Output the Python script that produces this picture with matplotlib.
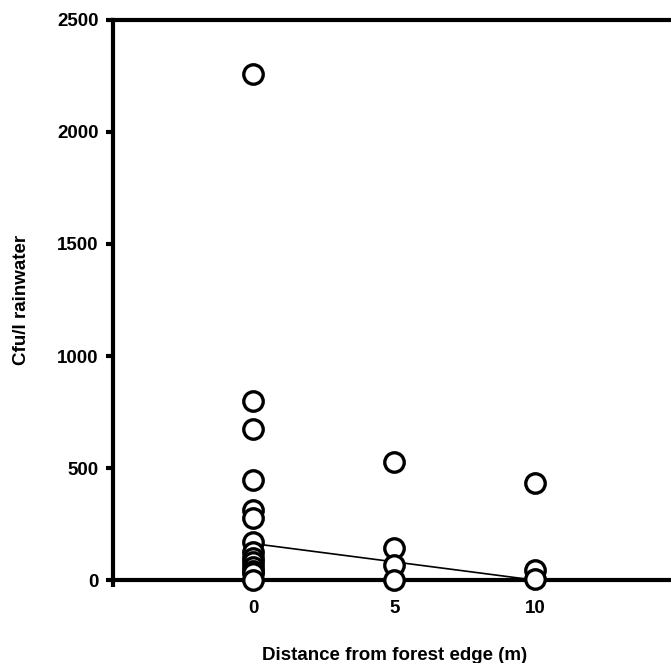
import numpy as np
import matplotlib.pyplot as plt

plt.rcParams['font.family'] = ['Liberation Sans', 'DejaVu Sans']
plt.rcParams['font.weight'] = 'bold'

# distance from forest edge (m) and cfu per litre
dist_0 = [0] * 14
cfu_0 = [2260, 800, 675, 445, 315, 275, 170, 125, 100, 80, 60, 40, 30, 0]
dist_5 = [5] * 4
cfu_5 = [528, 143, 67, 0]
dist_10 = [10] * 3
cfu_10 = [435, 45, 5]

# trend line as drawn
trend_x = [0, 10]
trend_y = [163, 0]

x = np.array(dist_0 + dist_5 + dist_10)
y = np.array(cfu_0 + cfu_5 + cfu_10)

fig = plt.figure(figsize=(6.71, 6.63), dpi=100)
ax = fig.add_axes([0.168, 0.125, 0.839, 0.845])

ax.plot(trend_x, trend_y, color='black', lw=1.2, zorder=2)
ax.plot(x, y, 'o', ms=14, mfc='white', mec='black', mew=2.4,
        clip_on=False, zorder=3)

ax.set_xlim(-5, 15)
ax.set_ylim(0, 2500)
ax.set_xticks([-5, 0, 5, 10, 15])
ax.set_xticklabels(['', '0', '5', '10', ''])
ax.set_yticks([0, 500, 1000, 1500, 2000, 2500])

for s in ax.spines.values():
    s.set_linewidth(3)
ax.spines['right'].set_visible(False)

ax.tick_params(axis='both', direction='out', length=5, width=3,
               labelsize=13.5)
ax.tick_params(axis='x', pad=9)
ax.tick_params(axis='y', pad=5)
for lab in ax.get_xticklabels() + ax.get_yticklabels():
    lab.set_fontweight('bold')

ax.set_xlabel('Distance from forest edge (m)', fontsize=13.5,
              fontweight='bold', labelpad=22)
ax.set_ylabel('Cfu/l rainwater', fontsize=13.5, fontweight='bold')
ax.yaxis.set_label_coords(-0.147, 0.5)

fig.savefig('out.png', dpi=100)
